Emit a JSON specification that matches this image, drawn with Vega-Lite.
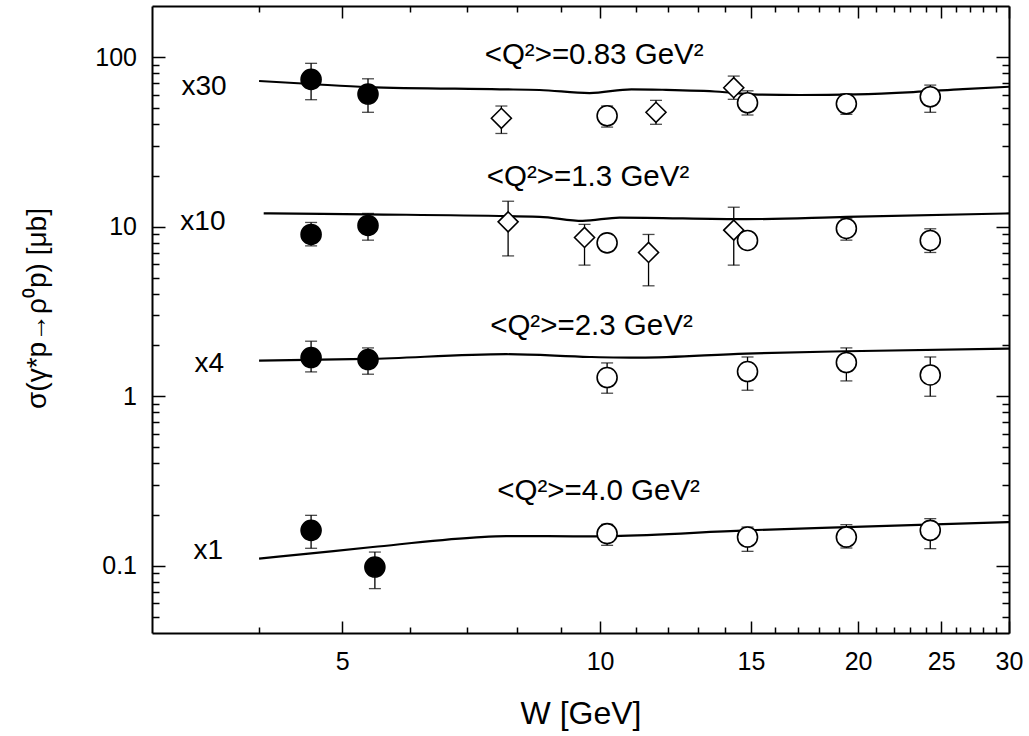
{
  "$schema": "https://vega.github.io/schema/vega-lite/v6.json",
  "width": 857,
  "height": 627,
  "autosize": {"type": "none"},
  "padding": {"left": 152, "top": 6, "right": 20, "bottom": 103},
  "background": "white",
  "config": {"view": {"stroke": null}},
  "datasets": {
    "curves": [
      {"group": "0.83", "W": 4.0, "v": 72.2}, {"group": "0.83", "W": 4.6, "v": 69.3}, {"group": "0.83", "W": 5.35, "v": 66.5},
      {"group": "0.83", "W": 7.64, "v": 64.5}, {"group": "0.83", "W": 8.5, "v": 63.9}, {"group": "0.83", "W": 9.72, "v": 61.3},
      {"group": "0.83", "W": 10.88, "v": 64.5}, {"group": "0.83", "W": 11.83, "v": 64.1}, {"group": "0.83", "W": 13.79, "v": 62.4},
      {"group": "0.83", "W": 15.07, "v": 60.2}, {"group": "0.83", "W": 17.09, "v": 59.7}, {"group": "0.83", "W": 19.9, "v": 60.2},
      {"group": "0.83", "W": 23.2, "v": 62.1}, {"group": "0.83", "W": 26.5, "v": 64.7}, {"group": "0.83", "W": 30.0, "v": 66.8},
      {"group": "1.3", "W": 4.05, "v": 11.95}, {"group": "1.3", "W": 5.35, "v": 11.8}, {"group": "1.3", "W": 8.5, "v": 11.4},
      {"group": "1.3", "W": 9.54, "v": 10.8}, {"group": "1.3", "W": 10.54, "v": 11.3}, {"group": "1.3", "W": 14.8, "v": 11.05},
      {"group": "1.3", "W": 19.38, "v": 11.4}, {"group": "1.3", "W": 30.0, "v": 11.95},
      {"group": "2.3", "W": 4.0, "v": 1.62}, {"group": "2.3", "W": 5.35, "v": 1.655}, {"group": "2.3", "W": 7.77, "v": 1.765},
      {"group": "2.3", "W": 9.72, "v": 1.70}, {"group": "2.3", "W": 11.12, "v": 1.683}, {"group": "2.3", "W": 14.8, "v": 1.78},
      {"group": "2.3", "W": 19.38, "v": 1.838}, {"group": "2.3", "W": 30.0, "v": 1.906},
      {"group": "4.0", "W": 4.0, "v": 0.1098}, {"group": "4.0", "W": 4.6, "v": 0.118}, {"group": "4.0", "W": 5.43, "v": 0.1286},
      {"group": "4.0", "W": 7.11, "v": 0.1461}, {"group": "4.0", "W": 7.77, "v": 0.1493}, {"group": "4.0", "W": 9.72, "v": 0.1487},
      {"group": "4.0", "W": 10.36, "v": 0.1493}, {"group": "4.0", "W": 14.8, "v": 0.1613}, {"group": "4.0", "W": 19.38, "v": 0.1687},
      {"group": "4.0", "W": 30.0, "v": 0.1806}
    ],
    "points": [
      {"group": "0.83", "marker": "filled", "W": 4.60, "v": 73.8, "lo": 56.0, "hi": 91.8},
      {"group": "0.83", "marker": "filled", "W": 5.36, "v": 60.5, "lo": 47.2, "hi": 74.4},
      {"group": "0.83", "marker": "diamond", "W": 7.67, "v": 43.5, "lo": 35.4, "hi": 51.4},
      {"group": "0.83", "marker": "open", "W": 10.19, "v": 45.0, "lo": 38.6, "hi": 51.4},
      {"group": "0.83", "marker": "diamond", "W": 11.62, "v": 47.2, "lo": 40.1, "hi": 55.5},
      {"group": "0.83", "marker": "diamond", "W": 14.32, "v": 65.9, "lo": 56.3, "hi": 77.2},
      {"group": "0.83", "marker": "open", "W": 14.86, "v": 53.7, "lo": 45.5, "hi": 63.2},
      {"group": "0.83", "marker": "open", "W": 19.38, "v": 53.0, "lo": 45.9, "hi": 60.5},
      {"group": "0.83", "marker": "open", "W": 24.28, "v": 58.3, "lo": 47.2, "hi": 68.3},
      {"group": "1.3", "marker": "filled", "W": 4.60, "v": 8.98, "lo": 7.69, "hi": 10.57},
      {"group": "1.3", "marker": "filled", "W": 5.36, "v": 10.15, "lo": 8.31, "hi": 11.95},
      {"group": "1.3", "marker": "diamond", "W": 7.81, "v": 10.66, "lo": 6.71, "hi": 14.1},
      {"group": "1.3", "marker": "diamond", "W": 9.59, "v": 8.62, "lo": 5.92, "hi": 10.3},
      {"group": "1.3", "marker": "open", "W": 10.19, "v": 8.01, "lo": 7.5, "hi": 8.6},
      {"group": "1.3", "marker": "diamond", "W": 11.39, "v": 7.03, "lo": 4.47, "hi": 8.98},
      {"group": "1.3", "marker": "diamond", "W": 14.32, "v": 9.52, "lo": 5.92, "hi": 13.0},
      {"group": "1.3", "marker": "open", "W": 14.86, "v": 8.28, "lo": 7.7, "hi": 8.9},
      {"group": "1.3", "marker": "open", "W": 19.38, "v": 9.74, "lo": 8.31, "hi": 11.2},
      {"group": "1.3", "marker": "open", "W": 24.28, "v": 8.28, "lo": 7.03, "hi": 9.7},
      {"group": "2.3", "marker": "filled", "W": 4.60, "v": 1.687, "lo": 1.388, "hi": 2.106},
      {"group": "2.3", "marker": "filled", "W": 5.36, "v": 1.642, "lo": 1.345, "hi": 1.923},
      {"group": "2.3", "marker": "open", "W": 10.19, "v": 1.286, "lo": 1.039, "hi": 1.568},
      {"group": "2.3", "marker": "open", "W": 14.86, "v": 1.395, "lo": 1.082, "hi": 1.70},
      {"group": "2.3", "marker": "open", "W": 19.38, "v": 1.577, "lo": 1.228, "hi": 1.923},
      {"group": "2.3", "marker": "open", "W": 24.28, "v": 1.332, "lo": 0.997, "hi": 1.70},
      {"group": "4.0", "marker": "filled", "W": 4.60, "v": 0.1613, "lo": 0.1264, "hi": 0.1978},
      {"group": "4.0", "marker": "filled", "W": 5.46, "v": 0.098, "lo": 0.0731, "hi": 0.1201},
      {"group": "4.0", "marker": "open", "W": 10.19, "v": 0.1542, "lo": 0.1316, "hi": 0.175},
      {"group": "4.0", "marker": "open", "W": 14.86, "v": 0.1473, "lo": 0.1213, "hi": 0.1687},
      {"group": "4.0", "marker": "open", "W": 19.38, "v": 0.1473, "lo": 0.1269, "hi": 0.1743},
      {"group": "4.0", "marker": "open", "W": 24.28, "v": 0.1613, "lo": 0.1258, "hi": 0.1891}
    ],
    "labels": [
      {"W": 3.45, "v": 59.7, "text": "x30", "kind": "scale"},
      {"W": 3.44, "v": 9.52, "text": "x10", "kind": "scale"},
      {"W": 3.50, "v": 1.388, "text": "x4", "kind": "scale"},
      {"W": 3.49, "v": 0.1088, "text": "x1", "kind": "scale"},
      {"W": 9.84, "v": 90.6, "text": "<Q²>=0.83 GeV²", "kind": "q"},
      {"W": 9.68, "v": 17.3, "text": "<Q²>=1.3 GeV²", "kind": "q"},
      {"W": 9.77, "v": 2.307, "text": "<Q²>=2.3 GeV²", "kind": "q"},
      {"W": 9.96, "v": 0.2426, "text": "<Q²>=4.0 GeV²", "kind": "q"}
    ]
  },
  "resolve": {"axis": {"x": "independent", "y": "independent"}},
  "layer": [
    {
      "data": {"name": "curves"},
      "mark": {"type": "line", "color": "black", "strokeWidth": 2.2, "interpolate": "monotone"},
      "encoding": {
        "detail": {"field": "group"},
        "x": {
          "field": "W", "type": "quantitative",
          "scale": {"type": "log", "domain": [3, 30], "nice": false, "zero": false},
          "axis": {
            "orient": "bottom",
            "values": [4,5,6,7,8,9,10,11,12,13,14,15,16,17,18,19,20,21,22,23,24,25,26,27,28,29,30],
            "tickSize": {"condition": {"test": "indexof([5,10,15,20,25,30], datum.value) >= 0", "value": -12}, "value": -6},
            "tickWidth": 1.5, "tickColor": "black",
            "domainColor": "black", "domainWidth": 2,
            "grid": false,
            "labelExpr": "indexof([5,10,15,20,25,30], datum.value) >= 0 ? '' + datum.value : ''",
            "labelFont": "Liberation Sans", "labelFontSize": 25, "labelColor": "black",
            "labelPadding": 28.5, "labelOverlap": false, "labelFlush": false,
            "title": "W [GeV]", "titleFont": "Liberation Sans", "titleFontSize": 32, "titleFontWeight": "normal",
            "titleColor": "black", "titleY": 90, "titleBaseline": "alphabetic"
          }
        },
        "y": {
          "field": "v", "type": "quantitative",
          "scale": {"type": "log", "domain": [0.04, 200], "nice": false, "zero": false},
          "axis": {
            "orient": "left",
            "values": [0.05,0.06,0.07,0.08,0.09,0.1,0.2,0.3,0.4,0.5,0.6,0.7,0.8,0.9,1,2,3,4,5,6,7,8,9,10,20,30,40,50,60,70,80,90,100],
            "tickSize": {"condition": {"test": "indexof([0.1,1,10,100], datum.value) >= 0", "value": -13}, "value": -7},
            "tickWidth": 1.5, "tickColor": "black",
            "domainColor": "black", "domainWidth": 2,
            "grid": false,
            "labelExpr": "indexof([0.1,1,10,100], datum.value) >= 0 ? '' + datum.value : ''",
            "labelFont": "Liberation Sans", "labelFontSize": 25, "labelColor": "black",
            "labelPadding": 28.5, "labelOverlap": false, "labelFlush": false,
            "title": "σ(γ*p→ρ⁰p) [μb]", "titleFont": "Liberation Sans", "titleFontSize": 28, "titleFontWeight": "normal",
            "titleColor": "black", "titleX": -115, "titleY": 302, "titleBaseline": "middle", "titleAngle": 270
          }
        }
      }
    },
    {
      "data": {"name": "points"},
      "mark": {"type": "rule", "color": "black", "strokeWidth": 1.3},
      "encoding": {
        "x": {
          "field": "W", "type": "quantitative",
          "axis": {
            "orient": "top",
            "values": [4,5,6,7,8,9,10,11,12,13,14,15,16,17,18,19,20,21,22,23,24,25,26,27,28,29,30],
            "tickSize": {"condition": {"test": "indexof([5,10,15,20,25,30], datum.value) >= 0", "value": -12}, "value": -6},
            "tickWidth": 1.5, "tickColor": "black",
            "domainColor": "black", "domainWidth": 2, "grid": false,
            "labels": false, "title": null
          }
        },
        "y": {
          "field": "lo", "type": "quantitative",
          "axis": {
            "orient": "right",
            "values": [0.05,0.06,0.07,0.08,0.09,0.1,0.2,0.3,0.4,0.5,0.6,0.7,0.8,0.9,1,2,3,4,5,6,7,8,9,10,20,30,40,50,60,70,80,90,100],
            "tickSize": {"condition": {"test": "indexof([0.1,1,10,100], datum.value) >= 0", "value": -13}, "value": -7},
            "tickWidth": 1.5, "tickColor": "black",
            "domainColor": "black", "domainWidth": 2, "grid": false,
            "labels": false, "title": null
          }
        },
        "y2": {"field": "hi"}
      }
    },
    {
      "data": {"name": "points"},
      "mark": {"type": "tick", "color": "black", "orient": "horizontal", "size": 12, "thickness": 1.3},
      "encoding": {
        "x": {"field": "W", "type": "quantitative", "axis": null},
        "y": {"field": "lo", "type": "quantitative", "axis": null}
      }
    },
    {
      "data": {"name": "points"},
      "mark": {"type": "tick", "color": "black", "orient": "horizontal", "size": 12, "thickness": 1.3},
      "encoding": {
        "x": {"field": "W", "type": "quantitative", "axis": null},
        "y": {"field": "hi", "type": "quantitative", "axis": null}
      }
    },
    {
      "data": {"name": "points"},
      "mark": {"type": "point", "stroke": "black", "strokeWidth": 1.6, "opacity": 1, "fillOpacity": 1},
      "encoding": {
        "x": {"field": "W", "type": "quantitative", "axis": null},
        "y": {"field": "v", "type": "quantitative", "axis": null},
        "shape": {"field": "marker", "type": "nominal", "scale": {"domain": ["filled", "open", "diamond"], "range": ["circle", "circle", "diamond"]}, "legend": null},
        "fill": {"field": "marker", "type": "nominal", "scale": {"domain": ["filled", "open", "diamond"], "range": ["black", "white", "white"]}, "legend": null},
        "size": {"field": "marker", "type": "nominal", "scale": {"domain": ["filled", "open", "diamond"], "range": [400, 400, 600]}, "legend": null}
      }
    },
    {
      "data": {"name": "labels"},
      "transform": [{"filter": "datum.kind == 'scale'"}],
      "mark": {"type": "text", "font": "Liberation Sans", "fontSize": 28, "color": "black", "align": "center", "baseline": "alphabetic"},
      "encoding": {
        "x": {"field": "W", "type": "quantitative", "axis": null},
        "y": {"field": "v", "type": "quantitative", "axis": null},
        "text": {"field": "text"}
      }
    },
    {
      "data": {"name": "labels"},
      "transform": [{"filter": "datum.kind == 'q'"}],
      "mark": {"type": "text", "font": "Liberation Sans", "fontSize": 29.5, "color": "black", "align": "center", "baseline": "alphabetic"},
      "encoding": {
        "x": {"field": "W", "type": "quantitative", "axis": null},
        "y": {"field": "v", "type": "quantitative", "axis": null},
        "text": {"field": "text"}
      }
    }
  ]
}
